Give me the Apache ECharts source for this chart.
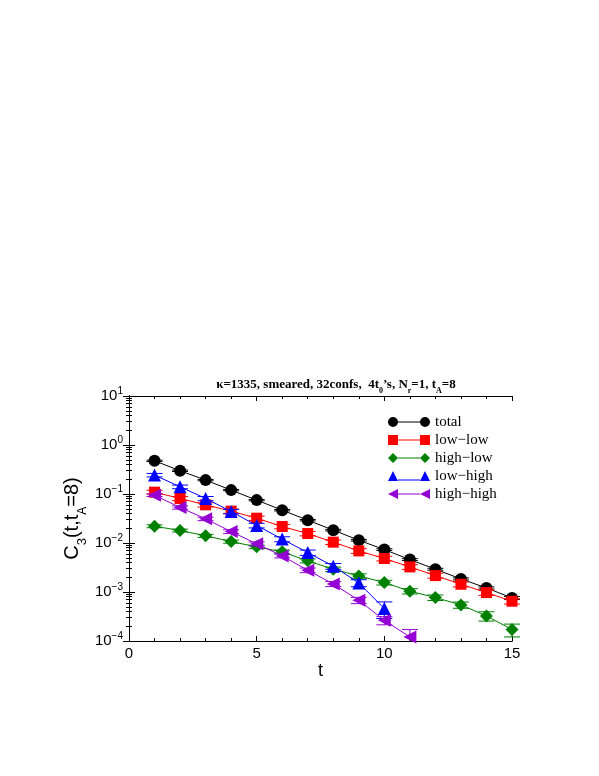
<!DOCTYPE html>
<html>
<head>
<meta charset="utf-8">
<script src="https://cdn.jsdelivr.net/npm/echarts@6/dist/echarts.min.js"></script>
<style>
  html, body { margin: 0; padding: 0; background: #fff; }
  #chart { width: 599px; height: 776px; }
</style>
</head>
<body>
<div id="chart"></div>
<script>
const tValues = [1, 2, 3, 4, 5, 6, 7, 8, 9, 10, 11, 12, 13, 14, 15];

const total = [0.476, 0.298, 0.192, 0.120, 0.075, 0.0468, 0.0292, 0.0183, 0.0114, 0.00734, 0.00459, 0.00292, 0.00185, 0.00121, 0.000757];
const totalErr = [0.015, 0.01, 0.006, 0.004, 0.0025, 0.0016, 0.001, 0.0007, 0.00045, 0.0003, 0.0002, 0.00013, 0.00009, 0.00006, 0.00005];

const lowLow = [0.109, 0.0811, 0.0601, 0.0447, 0.0321, 0.0217, 0.0156, 0.0104, 0.0069, 0.00482, 0.00325, 0.00216, 0.00144, 0.000973, 0.000648];
const lowLowErr = [0.01, 0.008, 0.006, 0.0045, 0.0032, 0.0022, 0.0016, 0.0011, 0.00075, 0.00052, 0.00036, 0.00025, 0.00017, 0.00012, 0.00008];

const highLow = [0.022, 0.018, 0.014, 0.0107, 0.00834, 0.00659, 0.00432, 0.00292, 0.00213, 0.00156, 0.00104, 0.00077, 0.000545, 0.000325, 0.000171];
const highLowErr = [0.0015, 0.0012, 0.001, 0.0008, 0.0007, 0.0006, 0.0004, 0.0003, 0.00022, 0.00017, 0.00013, 0.0001, 0.00008, 0.00007, 0.00005];

const lowHigh = [0.243, 0.140, 0.081, 0.044, 0.0228, 0.012, 0.00638, 0.00336, 0.00153, 0.000458];
const lowHighErr = [0.02, 0.012, 0.008, 0.0045, 0.0025, 0.0014, 0.0008, 0.00045, 0.00025, 0.00017];

const highHigh = [0.0948, 0.0531, 0.0311, 0.0171, 0.0096, 0.00546, 0.00278, 0.00146, 0.000678, 0.000264, 0.000121];
const highHighErr = [0.006, 0.004, 0.0025, 0.0015, 0.0009, 0.0005, 0.0003, 0.00017, 0.0001, 0.00005, 0.00005];

const xMajorTicks = [0, 5, 10, 15];
const xMinorTicks = [1, 2, 3, 4, 6, 7, 8, 9, 11, 12, 13, 14];
const yMajorTicks = [1e-4, 1e-3, 1e-2, 1e-1, 1, 10];
const yMinorTicks = [];
[1e-4, 1e-3, 1e-2, 1e-1, 1].forEach((d) => {
  for (let k = 2; k <= 9; k++) yMinorTicks.push(k * d);
});

const sansFont = '"Liberation Sans", Arial, sans-serif';
const serifFont = '"Liberation Serif", "Times New Roman", serif';

const seriesDefs = [
  { name: "total", color: "#000000", values: total, err: totalErr,
    symbol: "circle", size: 12,
    icon: "path://M0,5a5,5 0 1,0 10,0a5,5 0 1,0 -10,0M32,5a5,5 0 1,0 10,0a5,5 0 1,0 -10,0M10,4.4h22v1.2h-22z" },
  { name: "low\u2212low", color: "#ff0000", values: lowLow, err: lowLowErr,
    symbol: "rect", size: 11,
    icon: "path://M0,0h10v10h-10zM32,0h10v10h-10zM10,4.4h22v1.2h-22z" },
  { name: "high\u2212low", color: "#008000", values: highLow, err: highLowErr,
    symbol: "diamond", size: 13,
    icon: "path://M0,5L5,0L10,5L5,10zM32,5L37,0L42,5L37,10zM10,4.4h22v1.2h-22z" },
  { name: "low\u2212high", color: "#0000ff", values: lowHigh, err: lowHighErr,
    symbol: "triangle", size: 13,
    icon: "path://M0,10L5,0L10,10zM32,10L37,0L42,10zM10,8.4h22v1.2h-22z" },
  { name: "high\u2212high", color: "#9400d3", values: highHigh, err: highHighErr,
    symbol: "path://M0,5L10,0L10,10z", size: 13,
    icon: "path://M0,5L10,0L10,10zM32,5L42,0L42,10zM10,4.4h22v1.2h-22z" },
];

function errorRender(color) {
  return function (params, api) {
    const t = api.value(0), v = api.value(1), e = api.value(2);
    const top = api.coord([t, v + e]);
    const bot = api.coord([t, Math.max(v - e, 1e-6)]);
    const cs = params.coordSys;
    const yMax = cs.y + cs.height;
    const y1 = Math.max(top[1], cs.y);
    const y2 = Math.min(bot[1], yMax);
    const x = top[0];
    const w = 8;
    const style = { stroke: color, lineWidth: 1 };
    const children = [{ type: "line", shape: { x1: x, y1: y1, x2: x, y2: y2 }, style: style }];
    if (top[1] >= cs.y) children.push({ type: "line", shape: { x1: x - w, y1: top[1], x2: x + w, y2: top[1] }, style: style });
    if (bot[1] <= yMax) children.push({ type: "line", shape: { x1: x - w, y1: bot[1], x2: x + w, y2: bot[1] }, style: style });
    return { type: "group", children: children };
  };
}

const series = [];
seriesDefs.forEach((d, i) => {
  series.push({
    name: d.name + " err",
    type: "custom",
    z: 2 + i * 2,
    renderItem: errorRender(d.color),
    data: d.values.map((v, k) => [tValues[k], v, d.err[k]]),
    silent: true,
  });
  series.push({
    name: d.name,
    type: "line",
    z: 3 + i * 2,
    data: d.values.map((v, k) => [tValues[k], v]),
    symbol: d.symbol,
    symbolSize: d.size,
    showAllSymbol: true,
    color: d.color,
    itemStyle: { color: d.color },
    lineStyle: { color: d.color, width: 1 },
    clip: true,
  });
});

function expLabel(value) {
  const e = Math.round(Math.log10(value));
  const s = String(e).replace("-", "\u2212");
  return "{b|10}{s|" + s + "}";
}

const line = { lineStyle: { color: "#000", width: 1 } };
const ticks = (vals, len) => ({ inside: true, length: len, customValues: vals, lineStyle: { color: "#000" } });

// plain axes, stacked on the same side so major and minor ticks both point inward
function xAx(position, vals, len, extra) {
  return Object.assign({
    type: "value", min: 0, max: 15, position: position,
    axisLine: Object.assign({ show: true }, line),
    axisTick: ticks(vals, len),
    axisLabel: { show: false },
    splitLine: { show: false },
  }, extra || {});
}
function yAx(position, vals, len, extra) {
  return Object.assign({
    type: "log", logBase: 10, min: 1e-4, max: 10, position: position,
    axisLine: Object.assign({ show: true }, line),
    axisTick: ticks(vals, len),
    axisLabel: { show: false },
    splitLine: { show: false },
  }, extra || {});
}

const option = {
  animation: false,
  backgroundColor: "#ffffff",
  title: {
    text: "\u03ba=1335, smeared, 32confs,  4t{sub|0}\u2019s, N{sub|r}=1, t{sub|A}=8",
    left: 331,
    textAlign: "center",
    top: 373,
    textStyle: {
      fontFamily: serifFont, fontWeight: "bold", fontSize: 13, color: "#000",
      rich: {
        sub: { fontFamily: serifFont, fontWeight: "bold", fontSize: 8, verticalAlign: "bottom", padding: [0, 0, -4, 0] },
      },
    },
  },
  legend: {
    orient: "vertical",
    left: 383,
    top: 409,
    itemWidth: 42,
    itemHeight: 10,
    itemGap: 2,
    selectedMode: false,
    textStyle: { fontFamily: serifFont, fontSize: 15, color: "#000", lineHeight: 16 },
    data: seriesDefs.map((d) => ({ name: d.name, icon: d.icon, itemStyle: { color: d.color } })),
  },
  grid: { left: 129, right: 87, top: 396, bottom: 135 },
  xAxis: [
    xAx("bottom", xMajorTicks, 5, {
      name: "t", nameLocation: "middle", nameGap: 19,
      nameTextStyle: { fontFamily: sansFont, fontSize: 18, color: "#000" },
      axisLabel: { show: true, customValues: xMajorTicks, fontFamily: sansFont, fontSize: 15, color: "#000", margin: 5 },
    }),
    xAx("bottom", xMinorTicks, 3),
    xAx("top", xMajorTicks, 5),
    xAx("top", xMinorTicks, 3),
  ],
  yAxis: [
    yAx("left", yMajorTicks, 6, {
      name: "C{sub|3}(t,t{sub2|A}=8)", nameLocation: "middle", nameGap: 47, nameRotate: 90,
      nameMoveOverlap: false,
      nameTextStyle: {
        fontFamily: sansFont, fontSize: 20, color: "#000",
        rich: {
          sub: { fontFamily: sansFont, fontSize: 13, padding: [0, 0, -7, 0], verticalAlign: "bottom" },
          sub2: { fontFamily: sansFont, fontSize: 12, padding: [0, 0, -7, 0], verticalAlign: "bottom" },
        },
      },
      axisLabel: {
        show: true, customValues: yMajorTicks,
        fontFamily: sansFont, color: "#000", margin: 6,
        formatter: expLabel,
        rich: {
          b: { fontFamily: sansFont, fontSize: 15, color: "#000" },
          s: { fontFamily: sansFont, fontSize: 10, color: "#000", verticalAlign: "top", padding: [0, 0, 9, 0] },
        },
      },
    }),
    yAx("left", yMinorTicks, 3),
    yAx("right", yMajorTicks, 6),
    yAx("right", yMinorTicks, 3),
  ],
  series: series,
};

const chart = echarts.init(document.getElementById("chart"));
chart.setOption(option);
</script>
</body>
</html>
